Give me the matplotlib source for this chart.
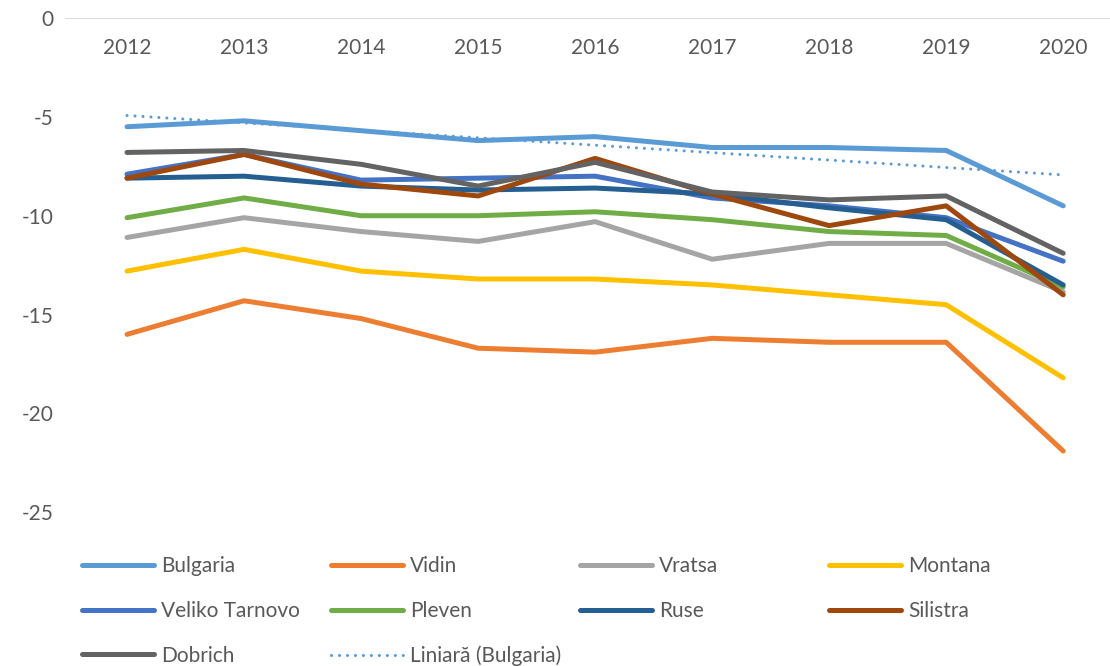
import numpy as np
import matplotlib
matplotlib.use("Agg")
import matplotlib.pyplot as plt

plt.rcParams['font.family'] = ['Lato', 'DejaVu Sans']

years = [2012, 2013, 2014, 2015, 2016, 2017, 2018, 2019, 2020]

bulgaria = [-5.5, -5.2, -5.7, -6.2, -6.0, -6.55, -6.55, -6.7, -9.5]
vidin = [-16.0, -14.3, -15.2, -16.7, -16.9, -16.2, -16.4, -16.4, -21.9]
vratsa = [-11.1, -10.1, -10.8, -11.3, -10.3, -12.2, -11.4, -11.4, -13.85]
montana = [-12.8, -11.7, -12.8, -13.2, -13.2, -13.5, -14.0, -14.5, -18.2]
veliko_tarnovo = [-7.9, -6.9, -8.2, -8.1, -8.0, -9.1, -9.5, -10.1, -12.3]
pleven = [-10.1, -9.1, -10.0, -10.0, -9.8, -10.2, -10.8, -11.0, -13.6]
ruse = [-8.1, -8.0, -8.5, -8.7, -8.6, -8.9, -9.6, -10.2, -13.5]
silistra = [-8.1, -6.9, -8.4, -9.0, -7.1, -8.9, -10.5, -9.5, -14.0]
dobrich = [-6.8, -6.7, -7.4, -8.5, -7.3, -8.8, -9.2, -9.0, -11.9]

series = [
    ("Bulgaria", bulgaria, "#5B9BD5"),
    ("Vidin", vidin, "#ED7D31"),
    ("Vratsa", vratsa, "#A5A5A5"),
    ("Montana", montana, "#FFC000"),
    ("Veliko Tarnovo", veliko_tarnovo, "#4472C4"),
    ("Pleven", pleven, "#70AD47"),
    ("Ruse", ruse, "#255E91"),
    ("Silistra", silistra, "#9E480E"),
    ("Dobrich", dobrich, "#636363"),
]

W, H = 1110, 666
fig = plt.figure(figsize=(W / 100, H / 100), dpi=100)
# axes: x 65..1110 px, y 18..540 px
ax = fig.add_axes([65 / W, 1 - 540 / H, 1045 / W, (540 - 18) / H])

x = np.arange(len(years))
handles = {}
for name, vals, col in series:
    h, = ax.plot(x, vals, color=col, lw=3.6, solid_capstyle='round',
                 solid_joinstyle='round', label=name)
    handles[name] = h

# linear trend of Bulgaria
k, b = np.polyfit(x, bulgaria, 1)
h, = ax.plot(x, k * x + b, color="#5B9BD5", lw=2.2,
             linestyle=(0, (0.01, 2.6)), dash_capstyle='round',
             label="Liniară (Bulgaria)")
handles["Liniară (Bulgaria)"] = h

ax.axhline(0, color="#D9D9D9", lw=1.3, zorder=0)
ax.set_xlim(-0.53, 8.4)
ax.set_ylim(-26.4, 0)
ax.set_yticks([0, -5, -10, -15, -20, -25])
ax.set_yticklabels(["0", "-5", "-10", "-15", "-20", "-25"])
ax.set_xticks(x)
ax.set_xticklabels([str(y) for y in years])
ax.xaxis.tick_top()
ax.tick_params(axis='x', length=0, pad=-29, labelsize=15, labelcolor="#595959")
ax.tick_params(axis='y', length=0, pad=8, labelsize=15, labelcolor="#595959")
for s in ax.spines.values():
    s.set_visible(False)

# legend: four equal columns like Excel
columns = [
    ["Bulgaria", "Veliko Tarnovo", "Dobrich"],
    ["Vidin", "Pleven", "Liniară (Bulgaria)"],
    ["Vratsa", "Ruse"],
    ["Montana", "Silistra"],
]
for i, names in enumerate(columns):
    leg = fig.legend([handles[n] for n in names], names,
                     loc='upper left', bbox_to_anchor=((82 + 249 * i) / W, 1 - 556 / H),
                     frameon=False, fontsize=15, handlelength=3.46,
                     handletextpad=0.33, labelspacing=1.19,
                     borderpad=0, borderaxespad=0)
    for t in leg.get_texts():
        t.set_color("#595959")

fig.savefig("out.png", dpi=100)
